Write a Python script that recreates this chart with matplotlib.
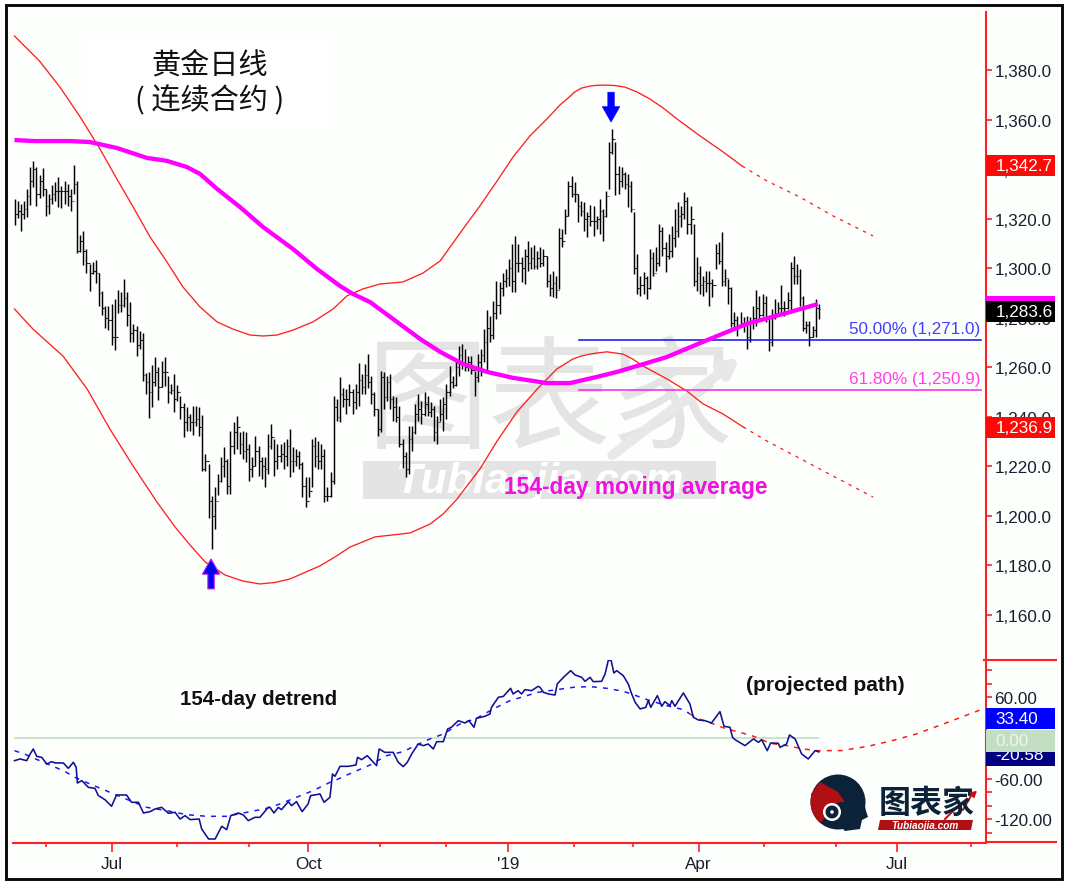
# gold daily bars with 154-day envelope, detrend panel below
import matplotlib
matplotlib.use('Agg')
import matplotlib.pyplot as plt
from matplotlib.patches import Rectangle, Circle, Polygon, Wedge

plt.rcParams['font.family'] = ['Liberation Sans', 'DejaVu Sans']

# ---- data (x = trading bar number) ----
HIGHS = [
    1327.9, 1327.3, 1325.9, 1327.3, 1332, 1340.7, 1343.1, 1340.7, 1337.4, 1340.5,
    1332, 1330, 1333.6, 1334.7, 1336.7, 1333.3, 1335.3, 1334, 1332, 1341.8,
    1335.3, 1313.4, 1315.1, 1307.7, 1301.7, 1302.4, 1303.3, 1298, 1290.6, 1284.9,
    1284.6, 1285.5, 1287.6, 1291.3, 1290.2, 1295.6, 1290.2, 1286.2, 1277.5, 1276.8,
    1274.8, 1273.8, 1257.7, 1258.2, 1260.9, 1264, 1260, 1262.6, 1264.3, 1256.6,
    1253.2, 1257.3, 1252.8, 1248.5, 1245.6, 1243.8, 1241.1, 1244.5, 1244.5, 1243.8,
    1240.7, 1225, 1220.9, 1208, 1211.5, 1216.9, 1223.6, 1227.7, 1223, 1234.4,
    1238, 1240.2, 1233.7, 1234.4, 1233.7, 1229, 1223.6, 1232.1, 1228.3, 1223.6,
    1223.6, 1233, 1237.1, 1231, 1229, 1229, 1229.7, 1231, 1235.1, 1227.7,
    1227, 1226.3, 1221.6, 1215.5, 1215.5, 1231, 1231.7, 1230.4, 1229, 1227,
    1211.5, 1217.6, 1248.5, 1247.2, 1256, 1251.8, 1251.2, 1253.2, 1251.2, 1253.2,
    1261.9, 1257.2, 1261.3, 1265.3, 1256.6, 1249.8, 1243.1, 1258.3, 1257.9, 1256.6,
    1257.2, 1248.5, 1247.8, 1244.4, 1231, 1225.6, 1236.4, 1236.4, 1245.1, 1249.2,
    1246.5, 1249.8, 1248.5, 1245.8, 1244.4, 1240.4, 1247.1, 1247.8, 1253.2, 1260.6,
    1256.6, 1262.6, 1268.7, 1269.3, 1267.3, 1264.6, 1264.6, 1258.6, 1265.3, 1267.3,
    1275.4, 1283.2, 1280.8, 1286.8, 1294.9, 1294.2, 1298, 1299.6, 1303.7, 1309.7,
    1313.1, 1309.7, 1304.3, 1307.7, 1311, 1308.4, 1309.3, 1307, 1308.4, 1307.7,
    1305, 1297.6, 1299, 1297, 1316.4, 1315.8, 1323.9, 1335.3, 1337.3, 1334.6,
    1329.9, 1327.2, 1326.6, 1322.5, 1325.5, 1325.2, 1321.2, 1327.9, 1323.9, 1331.3,
    1350.8, 1356.2, 1350.8, 1341.4, 1340.7, 1338.7, 1338, 1335.3, 1322.5, 1305.7,
    1296.9, 1298.3, 1296.9, 1307.7, 1306.4, 1308.4, 1317.8, 1316.5, 1310.4, 1313.8,
    1317.1, 1323.9, 1326.6, 1325.2, 1330.9, 1328.6, 1325.2, 1317.8, 1304.3, 1301,
    1296.9, 1299, 1299, 1295.6, 1309.7, 1310.4, 1314.4, 1299.6, 1295.6, 1292.2,
    1282.4, 1280.8, 1282.1, 1280.1, 1280.8, 1280.1, 1284.8, 1291.3, 1288.9, 1289.5,
    1288.9, 1280.1, 1283.5, 1287.5, 1286.2, 1293.2, 1286.8, 1290.2, 1302.3, 1304.7,
    1301.6, 1299.6, 1288.9, 1278.8, 1278.8, 1276.7, 1287.5, 1285.5,
]
LOWS = [
    1317.4, 1320.1, 1315.1, 1319.9, 1320.5, 1325.5, 1332.6, 1325, 1328.2, 1329.3,
    1321.2, 1321.9, 1325.9, 1327.3, 1324.6, 1324.3, 1325.9, 1325, 1323, 1330,
    1306.1, 1306.7, 1301.3, 1298, 1290.9, 1297.6, 1294, 1284.9, 1281.1, 1275.7,
    1275.2, 1269, 1267.1, 1281.9, 1282.4, 1284.2, 1276.5, 1270.3, 1270.3, 1264.4,
    1267.4, 1254.6, 1249.2, 1239.4, 1243.8, 1252.6, 1246.9, 1251.9, 1252.6, 1245.6,
    1249.2, 1241.8, 1246.5, 1239.1, 1231.7, 1234.4, 1234.4, 1232.6, 1236.4, 1232.4,
    1218, 1218.2, 1199, 1186.5, 1194.7, 1208.4, 1213.5, 1215.5, 1208.8, 1208.8,
    1224.9, 1227, 1224.9, 1223, 1221.6, 1214.2, 1215.5, 1220.3, 1216.2, 1214.9,
    1211.5, 1216.9, 1227, 1216.2, 1218.9, 1221.6, 1218.9, 1220.3, 1215.5, 1217.6,
    1220.3, 1218.9, 1207.5, 1203.4, 1207.5, 1211.5, 1219.6, 1218.9, 1218.9, 1205.4,
    1206.1, 1207.5, 1212.9, 1238.4, 1237.8, 1243.8, 1241.1, 1244.4, 1241.1, 1243.1,
    1244.4, 1249.2, 1249.2, 1251.8, 1245.1, 1240.4, 1232.3, 1233.7, 1243.1, 1246.5,
    1243.1, 1238.4, 1237.7, 1227.6, 1219.5, 1215.5, 1216.9, 1226.3, 1233, 1238.4,
    1237, 1240.4, 1240.4, 1239.7, 1230.3, 1229, 1238.4, 1234.3, 1239.1, 1248.5,
    1251.8, 1252.5, 1256.6, 1259.3, 1258.6, 1258.6, 1257.2, 1248.5, 1253.9, 1256.6,
    1262, 1258.6, 1270, 1271.4, 1279.4, 1281.5, 1288.9, 1292.2, 1292.9, 1290.2,
    1290.2, 1298.3, 1294.2, 1293.6, 1299, 1299.6, 1299.6, 1299.6, 1300.3, 1301,
    1292.2, 1288.9, 1288.2, 1287.8, 1291.6, 1308.4, 1313.8, 1321.2, 1328.6, 1326.6,
    1318.5, 1321.2, 1315.1, 1312.4, 1317.1, 1313.1, 1315.8, 1313.8, 1311.1, 1320.5,
    1331.9, 1346.1, 1329.5, 1329.9, 1332.6, 1331.9, 1324.5, 1322.5, 1297.6, 1289.5,
    1288.9, 1289.5, 1287.5, 1291.6, 1296.9, 1299, 1301, 1305, 1298.3, 1303.7,
    1304.3, 1308.4, 1312.4, 1316.5, 1319.8, 1313.8, 1313.8, 1292.9, 1290.9, 1289.5,
    1288.9, 1290.2, 1284.8, 1288.2, 1299.6, 1301.6, 1292.9, 1292.9, 1285.5, 1276.1,
    1276.1, 1272.7, 1276.1, 1274.1, 1267.3, 1270, 1275.4, 1276.7, 1278.8, 1280.8,
    1278.1, 1266.6, 1268.7, 1279.4, 1280.8, 1281.5, 1280.8, 1283.5, 1282.8, 1293.6,
    1293.6, 1284.8, 1274.7, 1274, 1268.7, 1272, 1272, 1279.4,
]
CLOSES = [
    1322, 1323, 1322, 1324, 1329, 1335, 1340, 1330, 1335, 1332,
    1325, 1328, 1330, 1331, 1331, 1331, 1331, 1329, 1327, 1334,
    1307, 1311, 1307, 1302, 1298, 1299, 1298, 1290, 1284, 1280,
    1279, 1272, 1272, 1285, 1285, 1288, 1281, 1274, 1275, 1269,
    1271, 1257, 1254, 1250, 1254, 1258, 1252, 1258, 1258, 1250,
    1251, 1247, 1250, 1244, 1238, 1240, 1238, 1238, 1239, 1236,
    1219, 1222, 1206, 1200, 1206, 1214, 1220, 1222, 1212, 1228,
    1234, 1236, 1229, 1226, 1227, 1219, 1220, 1226, 1222, 1220,
    1219, 1228, 1232, 1222, 1224, 1225, 1224, 1228, 1222, 1222,
    1224, 1221, 1212, 1206, 1210, 1228, 1224, 1222, 1224, 1208,
    1208, 1214, 1244, 1240, 1249, 1247, 1247, 1250, 1246, 1250,
    1255, 1252, 1257, 1254, 1249, 1243, 1235, 1256, 1248, 1254,
    1247, 1244, 1240, 1229, 1224, 1219, 1231, 1234, 1241, 1243,
    1241, 1245, 1242, 1243, 1234, 1238, 1241, 1245, 1250, 1254,
    1253, 1260, 1265, 1262, 1260, 1262, 1259, 1256, 1262, 1265,
    1270, 1276, 1273, 1282, 1285, 1292, 1295, 1296, 1300, 1295,
    1302, 1302, 1300, 1305, 1302, 1304, 1301, 1304, 1302, 1305,
    1295, 1292, 1294, 1291, 1312, 1311, 1321, 1333, 1330, 1330,
    1325, 1323, 1320, 1321, 1319, 1319, 1320, 1323, 1321, 1329,
    1347, 1352, 1338, 1335, 1338, 1334, 1333, 1324, 1300, 1292,
    1293, 1296, 1292, 1304, 1298, 1302, 1315, 1308, 1305, 1307,
    1312, 1315, 1321, 1322, 1327, 1318, 1320, 1295, 1298, 1293,
    1295, 1294, 1294, 1293, 1306, 1303, 1295, 1296, 1292, 1278,
    1279, 1277, 1278, 1277, 1272, 1278, 1280, 1284, 1281, 1286,
    1280, 1270, 1280, 1282, 1284, 1284, 1284, 1287, 1300, 1297,
    1297, 1288, 1276, 1277, 1272, 1275, 1284, 1283.6,
]

UPPER_X = [0, 8, 14.5, 21, 27.3, 32.7, 37.9, 43.3, 48.7, 53.8, 59.3, 64.7, 69.8, 75.2,
           79.4, 83.9, 89, 95.4, 101.8, 106.2, 111.3, 116.8, 124.1, 130.5, 136, 143.3,
           148.7, 154.2, 159.3, 164.7, 170.1, 174.3, 176.9, 179, 181.2, 183.9, 186.1, 188.7,
           191.9, 195, 198.9, 203, 207.2, 211.7, 219, 226.4, 232.5]
UPPER_Y = [1393.7, 1383.6, 1373.1, 1361, 1348.1, 1336, 1324.7, 1312.6, 1302.5, 1292.4,
           1284.3, 1278.3, 1275.4, 1273, 1272.6, 1273, 1275, 1278.3, 1283.5, 1288.8,
           1291.6, 1293.6, 1294.4, 1298, 1302.9, 1315.8, 1325.1, 1335.2, 1344.9, 1353.4,
           1360.2, 1365.9, 1368.7, 1371.1, 1372.7, 1373.5, 1373.8, 1373.9, 1373.7, 1373.1,
           1371.1, 1368.3, 1364.7, 1360.2, 1353.4, 1346.9, 1341.2]
UPPER_PROJ_X = [232.5, 240.4, 250.9, 261.5, 274.3]
UPPER_PROJ_Y = [1341.2, 1335.2, 1328.7, 1321.1, 1313]

LOWER_X = [0, 5.9, 15.5, 23.2, 30.5, 37.9, 45.5, 51.3, 56.1, 60.9, 67.3, 72.9, 78.4, 83.2,
           88, 97.6, 102.4, 107.2, 115.2, 121, 126.4, 132.8, 137, 141.4, 148.7, 154.2,
           160.5, 167, 173.3, 178.4, 181, 183.9, 186.5, 189.3, 194.4, 197.5, 200.8, 208.4,
           214.8, 220, 226.4, 232.8]
LOWER_Y = [1283.5, 1275.4, 1264.5, 1251.2, 1235, 1220.1, 1205.6, 1195.5, 1188.2, 1181.4,
           1176.1, 1173.7, 1172.5, 1173.1, 1174.5, 1179.8, 1183.4, 1187.4, 1191.5, 1192.3,
           1193.1, 1196.7, 1200.8, 1206.8, 1218.9, 1230.2, 1241.9, 1251.2, 1259.3, 1263.3,
           1264.5, 1265.3, 1265.8, 1266.2, 1265.3, 1263.3, 1260.5, 1255.3, 1250.4, 1245.2,
           1241.1, 1235.9]
LOWER_PROJ_X = [232.8, 240.4, 250, 262.1, 274.3]
LOWER_PROJ_Y = [1235.9, 1230.2, 1223.8, 1215.7, 1207.6]

MA_X = [0, 6.5, 17.7, 24.1, 32.7, 42.3, 48.7, 55.1, 59.3, 64.7, 72, 79.4, 89, 96.6, 104,
        108.1, 113.6, 122.2, 129.6, 136, 143.3, 151, 159.3, 170.1, 177.5, 186.1, 192.5,
        198.9, 208.4, 222.2, 234, 247.8, 256.7]
MA_Y = [1351.7, 1351.3, 1351.3, 1350.9, 1348.5, 1344.5, 1343.3, 1340.8, 1338, 1332,
        1324.7, 1316.6, 1307.7, 1299.7, 1292.8, 1289.6, 1286.3, 1278.3, 1271.4, 1266.2,
        1261.3, 1258.1, 1255.7, 1253.6, 1253.6, 1256.1, 1258.1, 1260.5, 1264.1, 1271.4,
        1277.5, 1282.3, 1285.5]

FIB_LEVELS = [1271.0, 1250.9]
FIB_LABELS = ['50.00% (1,271.0)', '61.80% (1,250.9)']
FIB_COLORS = ['#1010e0', '#ff20e0']
FIB_TEXT_COLORS = ['#4040ff', '#ff40e8']

DETREND_X = [0, 1.8, 3.9, 5, 6, 7.1, 8.7, 10.3, 11.9, 13, 15.6, 17.2, 18.8, 19.7, 20.1,
             21.5, 23.6, 25.7, 26.8, 28.9, 31, 32.6, 35.8, 37.4, 39.6, 41.2, 43.3, 44.9,
             47, 49.2, 51.3, 52.9, 54.5, 56.1, 59, 59.8, 62, 64.1, 66.2, 67.8, 69.1, 71.5,
             73.1, 74.7, 76.8, 78.4, 81.1, 81.6, 82.9, 84.3, 85.3, 87.5, 88.5, 90.1, 91.9,
             93.8, 94.6, 97.6, 98.9, 100.8, 101.6, 102.4, 104, 106.6, 109.1, 109.6, 110.9,
             112.7, 115.7, 116.5, 118.3, 121, 122.6, 124.2, 125.5, 126.9, 129, 130.6, 132.2,
             133.8, 134.9, 137, 138.4, 139.6, 141.8, 143.9, 145.2, 146.8, 147.6, 150.3,
             151.9, 152.4, 154.6, 156.2, 158.5, 159.3, 160.9, 162, 163.1, 165.2, 167.3,
             167.9, 169, 170.6, 172.7, 173.4, 175.4, 177.7, 179.1, 181.2, 182.3, 183.9,
             184.9, 187.6, 188.7, 189.7, 190.6, 191.5, 192.4, 194.5, 196.1, 197.2, 198.3,
             199.9, 201.7, 202.5, 203.3, 205.4, 206.8, 207.8, 209.4, 210, 211, 213.7, 215.8,
             216.9, 218.5, 220.6, 222.7, 225.4, 226.7, 228.6, 229.4, 230.2, 233.4, 236.1,
             237.7, 238.7, 240.5, 241.6, 244, 244.6, 246.7, 247.6, 249.4, 251.5, 253.6,
             255.8, 257]
DETREND_Y = [-33.5, -31, -33.5, -23.6, -16.3, -27.1, -28.6, -38.4, -35, -36.9, -36.9, -44.8,
             -35.9, -43.3, -66.5, -63, -72.9, -74.4, -85.2, -91.1, -100.9, -84.2, -84.2, -95,
             -95, -110.8, -108.8, -104.9, -102.4, -111.3, -109.8, -119.7, -114.7, -120.6,
             -119.7, -134.4, -149.2, -149.2, -130.5, -135.4, -114.7, -110.8, -113.7, -122.1,
             -117.2, -117.2, -102.4, -102.4, -110.8, -102.4, -105.9, -94, -100, -94, -108.8,
             -97.5, -85.2, -82.7, -95, -87.6, -53.2, -56.6, -41.9, -41.9, -39.9, -28.6, -32,
             -26.1, -40.9, -16.2, -21.2, -21.2, -35.9, -42.3, -35.9, -23.6, -8.9, -11.3, -8.9,
             -16.2, -5.4, -5.4, 13.3, 15.8, 25.6, 22.2, 25.6, 15.8, 29.1, 32, 35.5, 45.3, 60.1,
             61.5, 73.4, 65, 69.9, 65, 71.4, 69.9, 76.3, 74.9, 67.5, 65, 63.5, 79.8, 89.6, 99.5,
             93.1, 89.6, 83.7, 89.6, 83.2, 83.7, 94.6, 114.3, 115.3, 96, 99.5, 92.1, 79.8, 65,
             52.7, 42.9, 45.3, 55.2, 45.3, 62.6, 46.8, 53.7, 47.8, 55.2, 46.8, 66.5, 50.3, 30.6,
             26.6, 25.6, 22.2, 38.9, 17.3, 15.8, 1, -2.4, -11.3, -1.4, -6.4, -2.4, -18.7, -7.4,
             -7.8, -13.8, -8.8, 4.5, -1.4, -23.6, -31, -18.7, -20.6]

CYCLE_X = [0, 3.9, 9.2, 15.6, 19.3, 24.1, 30.5, 36.9, 42.2, 48.6, 55, 61.4, 67.8, 74.2, 80.6,
           84.8, 90.1, 95.4, 100.8, 102.9, 108.2, 113.6, 118.9, 124.2, 128.5, 132.7, 137,
           142.3, 147.6, 153, 158.3, 167.3, 173.2, 178.6, 183.9, 189.2, 194.5, 197.7, 203,
           208.4, 213.7, 215.8]
CYCLE_Y = [-18.7, -25.1, -35.9, -48.3, -58.1, -67.9, -80.3, -92.6, -102.4, -107.3, -113.3,
           -115.7, -115.7, -109.8, -103.9, -97.5, -87.6, -77.8, -65.5, -61.6, -50.7, -39.9,
           -26.1, -20.2, -10.3, -1.5, 5.9, 20.7, 29.1, 42.9, 55.2, 67.5, 71.4, 74.9, 75.9,
           73.4, 69, 64, 55.2, 47.8, 41.9, 35.5]
CYCLE_PROJ_X = [215.8, 217.9, 223.3, 227.5, 231.8, 236.1, 241.4, 246.7, 252, 256.3, 264.1,
                272.7, 280.4, 288.1, 296.8, 308.8]
CYCLE_PROJ_Y = [35.5, 29.6, 20.7, 13.3, 8.4, 2.5, -7.8, -11.3, -16.2, -18.7, -18.7, -12.3,
                -4, 5.9, 20.7, 41.8]

PRICE_TICKS = [1160, 1180, 1200, 1220, 1240, 1260, 1280, 1300, 1320, 1340, 1360, 1380]
PRICE_TICK_LABELS = ['1,160.0', '1,180.0', '1,200.0', '1,220.0', '1,240.0', '1,260.0',
                     '1,280.0', '1,300.0', '1,320.0', '1,340.0', '1,360.0', '1,380.0']
DETREND_TICKS = [60, -60, -120]
DETREND_TICK_LABELS = ['60.00', '-60.00', '-120.00']
DETREND_MINOR = [100, 80, 40, 20, -20, -40, -80, -100, -140]
MONTH_TICKS = [31.1, 93.9, 157.7, 218.6, 281.9]
MONTH_LABELS = ['Jul', 'Oct', "'19", 'Apr', 'Jul']
MONTH_MINOR = [10.1, 51.9, 74.9, 116.8, 137.8, 178.7, 197.6, 239.5, 262.5, 305.6]

PRICE_BADGES = [1285.6, 1342.7, 1236.9, 1283.6]
PRICE_BADGE_TEXT = ['', '1,342.7', '1,236.9', '1,283.6']
PRICE_BADGE_COLORS = ['#ff00ff', '#ff0808', '#ff0808', '#000000']
DETREND_BADGES = [-20.58, 0.0, 33.40]
DETREND_BADGE_TEXT = ['-20.58', '0.00', '33.40']
DETREND_BADGE_COLORS = ['#000080', '#c4dec4', '#0000ff']

RED = '#ff2020'
W, H = 1068, 887
LEFT, RIGHT, TOP, SPLIT, BOTTOM = 13, 986, 13, 661, 843.5
LABEL_SIZE = 12.3
TEXT_DARK = '#1c1c30'

fig = plt.figure(figsize=(W / 100, H / 100), dpi=100, facecolor='white')


def px_axes(left, right, top, bottom, **kw):
    return fig.add_axes([left / W, 1 - bottom / H, (right - left) / W, (bottom - top) / H], **kw)


# background layer: chart colour, title box, watermark
bg = fig.add_axes([0, 0, 1, 1], zorder=0)
bg.set_xlim(0, W)
bg.set_ylim(H, 0)
bg.axis('off')
bg.add_patch(Rectangle((6, 6), 1056, 874, facecolor='#fdfffd', edgecolor='none'))
bg.add_patch(Rectangle((90, 39), 238, 88, facecolor='white', edgecolor='none'))
cjk = ['Noto Sans CJK SC', 'DejaVu Sans']
bg.text(210, 66, '黄金日线', family=cjk, fontsize=21, ha='center', va='center', color='#111111')
bg.text(210, 101, '( 连续合约 )', family=cjk, fontsize=21, ha='center', va='center', color='#111111')
bg.text(550, 404, '图表家', family=cjk, fontsize=88, fontweight='normal', ha='center', va='center',
        color='#e4e4e4')
bg.annotate('', xy=(742, 357), xytext=(610, 458),
            arrowprops=dict(arrowstyle='-|>,head_width=0.5,head_length=0.9', lw=7, color='#e8e8e8'))
bg.add_patch(Rectangle((363, 462), 353, 38, facecolor='#e4e4e4', edgecolor='none'))
bg.text(540, 482, 'Tubiaojia.com', fontsize=31, fontweight='bold', style='italic', ha='center',
        va='center', color='white')

# ---- price panel ----
ax = px_axes(LEFT, RIGHT, TOP, SPLIT, zorder=1, facecolor='none')
ax.set_xlim(-0.48, 310.4)
ax.set_ylim(1141.8, 1403.4)

bars = range(len(HIGHS))
ax.vlines(bars, LOWS, HIGHS, color='#000000', lw=1.05, zorder=3)
ax.hlines(CLOSES, bars, [b + 0.45 for b in bars], color='#101010', lw=0.8, zorder=3)
# open tick sits at the previous close on this kind of bar
ax.hlines(CLOSES[:-1], [b + 0.55 for b in bars][:-1], [b + 1 for b in bars][:-1],
          color='#101010', lw=0.8, zorder=3)

ax.plot(UPPER_X, UPPER_Y, color=RED, lw=0.95, zorder=4)
ax.plot(LOWER_X, LOWER_Y, color=RED, lw=0.95, zorder=4)
ax.plot(UPPER_PROJ_X, UPPER_PROJ_Y, color=RED, lw=0.95, ls=(0, (2.5, 4)), zorder=4)
ax.plot(LOWER_PROJ_X, LOWER_PROJ_Y, color=RED, lw=0.95, ls=(0, (2.5, 4)), zorder=4)
ax.plot(MA_X, MA_Y, color='#ff00ff', lw=3.1, zorder=5, solid_capstyle='butt')

for level, label, col, tcol in zip(FIB_LEVELS, FIB_LABELS, FIB_COLORS, FIB_TEXT_COLORS):
    ax.plot([180.4, 308.8], [level, level], color=col, lw=1.1, zorder=4)
    ax.text(308.5, level + 4.5, label, color=tcol, fontsize=LABEL_SIZE, ha='right', va='center', zorder=6)

ax.annotate('', xy=(190.6, 1359), xytext=(190.6, 1371),
            arrowprops=dict(width=4.6, headwidth=12.5, headlength=11, facecolor='#0000ff',
                            edgecolor='#0000ff', lw=0.5, shrink=0), zorder=7)
ax.annotate('', xy=(62.8, 1182.6), xytext=(62.8, 1170.5),
            arrowprops=dict(width=4.6, headwidth=12.5, headlength=11, facecolor='#0000ff',
                            edgecolor='#d020d0', lw=0.8, shrink=0), zorder=7)
ax.text(156.4, 1211.7, '154-day moving average', color='#f010e0', fontsize=16.4, fontweight='bold',
        ha='left', va='center', zorder=6)

for s in ['left', 'top', 'bottom']:
    ax.spines[s].set_visible(False)
ax.spines['right'].set_color(RED)
ax.spines['right'].set_linewidth(1.5)
ax.yaxis.tick_right()
ax.set_yticks(PRICE_TICKS)
ax.set_yticklabels(PRICE_TICK_LABELS, fontsize=LABEL_SIZE, color=TEXT_DARK)
ax.tick_params(axis='y', length=4.5, width=1.2, color=RED, pad=1.5)
ax.set_xticks([])

# value flags sit about 3 px under their level, later ones cover earlier ones
for val, txt, col in zip(PRICE_BADGES, PRICE_BADGE_TEXT, PRICE_BADGE_COLORS):
    ax.add_patch(Rectangle((310.5, val - 5.55), 22, 8.7, facecolor=col, edgecolor='none',
                           clip_on=False, zorder=8))
    ax.text(313.4, val - 1.2, txt, color='white', fontsize=LABEL_SIZE, va='center', ha='left',
            clip_on=False, zorder=9)

# ---- detrend panel ----
ax2 = px_axes(LEFT, RIGHT, SPLIT, BOTTOM, zorder=1, facecolor='none')
ax2.set_xlim(-0.48, 310.4)
ax2.set_ylim(-154.4, 115.2)

ax2.plot([0, 256.7], [0, 0], color='#c8dfc8', lw=1.3, zorder=2)
ax2.plot(CYCLE_X, CYCLE_Y, color='#1818ff', lw=1.1, ls=(0, (3.2, 4)), zorder=3)
ax2.plot(CYCLE_PROJ_X, CYCLE_PROJ_Y, color='#ff1818', lw=1.1, ls=(0, (3.2, 4)), zorder=3)
ax2.plot(DETREND_X, DETREND_Y, color='#101090', lw=1.15, zorder=4)

ax2.text(78, 57.6, '154-day detrend', color='#101010', fontsize=14.8, fontweight='bold',
         ha='center', va='center')
ax2.text(259, 78.3, '(projected path)', color='#101010', fontsize=15, fontweight='bold',
         ha='center', va='center')

for s in ['left', 'top']:
    ax2.spines[s].set_visible(False)
ax2.spines['right'].set_color(RED)
ax2.spines['right'].set_linewidth(1.5)
ax2.spines['bottom'].set_color(RED)
ax2.spines['bottom'].set_linewidth(1.5)
ax2.yaxis.tick_right()
ax2.set_yticks(DETREND_TICKS)
ax2.set_yticklabels(DETREND_TICK_LABELS, fontsize=LABEL_SIZE, color=TEXT_DARK)
ax2.set_yticks(DETREND_MINOR, minor=True)
ax2.tick_params(axis='y', which='major', length=4.5, width=1.2, color=RED, pad=1.5)
ax2.tick_params(axis='y', which='minor', length=4.5, width=1.2, color=RED)
ax2.set_xticks(MONTH_TICKS)
ax2.set_xticklabels(MONTH_LABELS, fontsize=LABEL_SIZE, color=TEXT_DARK)
ax2.set_xticks(MONTH_MINOR, minor=True)
ax2.tick_params(axis='x', which='major', length=6.5, width=1.2, color=RED, pad=3)
ax2.tick_params(axis='x', which='minor', length=3, width=1.2, color=RED)

for i, (val, txt, col) in enumerate(zip(DETREND_BADGES, DETREND_BADGE_TEXT, DETREND_BADGE_COLORS)):
    z = 8 + i * 2
    ax2.add_patch(Rectangle((310.5, val - 20.3), 22, 31.8, facecolor=col, edgecolor='none',
                            clip_on=False, zorder=z))
    tcol = '#eef5ee' if txt == '0.00' else 'white'
    ax2.text(313.4, val - 4.4, txt, color=tcol, fontsize=LABEL_SIZE, va='center', ha='left',
             clip_on=False, zorder=z + 1)

# ---- top layer: frame, axis extensions, logo ----
top = fig.add_axes([0, 0, 1, 1], zorder=5, facecolor='none')
top.set_xlim(0, W)
top.set_ylim(H, 0)
top.axis('off')
top.add_patch(Rectangle((6, 6), 1055.5, 874, facecolor='none', edgecolor='#0a0a0a', lw=2.1))
top.plot([984, 1056], [SPLIT, SPLIT], color=RED, lw=1.5)
top.plot([986, 1056], [BOTTOM, BOTTOM], color=RED, lw=1.5)

NAVY = '#0b2238'
top.add_patch(Circle((838, 803), 27.5, facecolor=NAVY, edgecolor='none'))
top.add_patch(Polygon([(850, 780), (862, 792), (866, 812), (868, 818), (862, 821), (860, 830),
                       (845, 832), (838, 825)], closed=True, facecolor=NAVY, edgecolor='none'))
top.add_patch(Wedge((838, 803), 27.5, 130, 195, facecolor='#b00f14', edgecolor='none'))
top.add_patch(Polygon([(820, 783), (838, 793), (845, 803), (830, 804), (811, 810), (811, 795)],
                      closed=True, facecolor='#b00f14', edgecolor='none'))
top.add_patch(Circle((832, 813), 9, facecolor='white', edgecolor='none'))
top.add_patch(Circle((832, 813), 6.5, facecolor=NAVY, edgecolor='none'))
top.add_patch(Circle((832, 813), 1.8, facecolor='white', edgecolor='none'))
top.text(927, 804, '图表家', family=cjk, fontsize=23, fontweight='bold', color=NAVY, ha='center',
         va='center')
top.add_patch(Polygon([(880, 821), (973, 821), (971, 831), (878, 831)], closed=True,
                      facecolor='#b00f14', edgecolor='none'))
top.text(925, 826, 'Tubiaojia.com', fontsize=7.2, fontweight='bold', style='italic', color='white',
         ha='center', va='center')
top.plot([945, 957, 963, 972], [820, 808, 811, 795], color='#c01015', lw=1.4)
top.annotate('', xy=(979, 790), xytext=(970, 798),
             arrowprops=dict(arrowstyle='-|>,head_width=0.2,head_length=0.35', lw=1.2, color='#c01015'))

fig.savefig('out.png', dpi=100, facecolor='white')
